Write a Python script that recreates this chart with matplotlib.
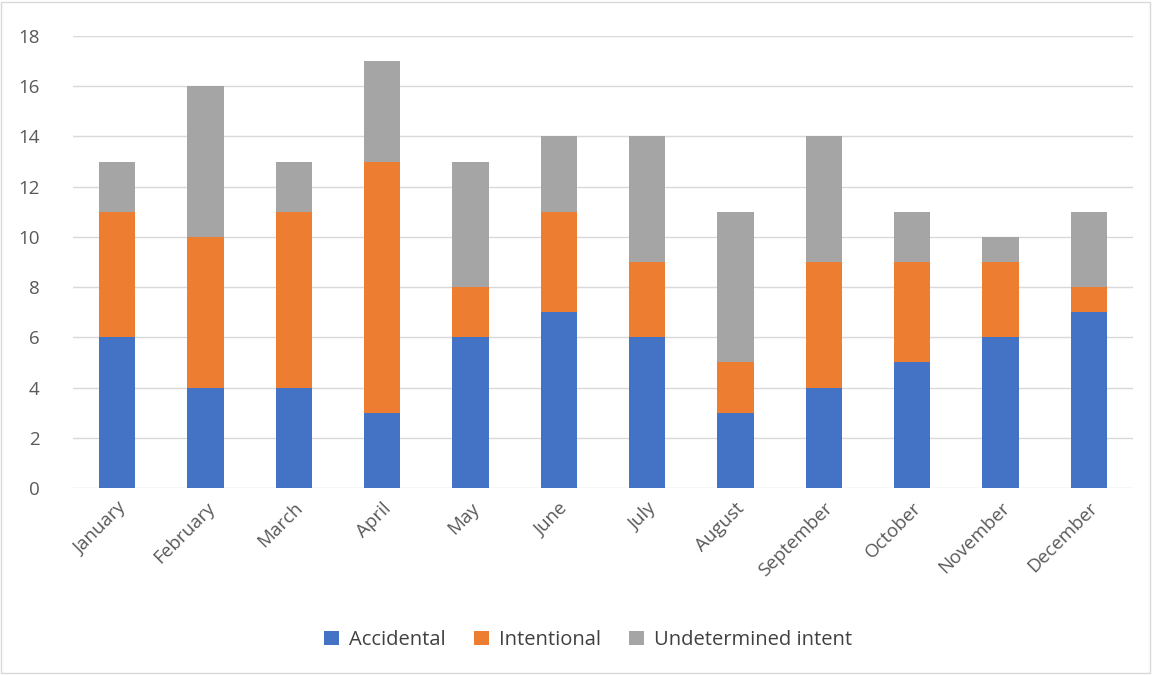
import matplotlib
matplotlib.use("Agg")
import matplotlib.pyplot as plt
import numpy as np
from matplotlib.patches import Rectangle

months = ["January", "February", "March", "April", "May", "June", "July",
          "August", "September", "October", "November", "December"]
accidental = [6, 4, 4, 3, 6, 7, 6, 3, 4, 5, 6, 7]
intentional = [5, 6, 7, 10, 2, 4, 3, 2, 5, 4, 3, 1]
undetermined = [2, 6, 2, 4, 5, 3, 5, 6, 5, 2, 1, 3]

plt.rcParams["font.family"] = ["Open Sans", "DejaVu Sans"]

fig = plt.figure(figsize=(11.53, 6.75), dpi=100)
ax = fig.add_axes([0.0633, 0.277, 0.9194, 0.6697])

x = np.arange(len(months))
w = 0.41
acc = np.array(accidental)
itn = np.array(intentional)
und = np.array(undetermined)
ax.bar(x, acc, w, color="#4472C4", label="Accidental", zorder=3)
ax.bar(x, itn, w, bottom=acc, color="#ED7D31", label="Intentional", zorder=3)
ax.bar(x, und, w, bottom=acc + itn, color="#A5A5A5", label="Undetermined intent", zorder=3)

ax.set_xlim(-0.5, 11.5)
ax.set_ylim(0, 18)
ax.set_yticks(range(0, 19, 2))
ax.grid(axis="y", color="#D9D9D9", lw=1, zorder=0)
for s in ax.spines.values():
    s.set_visible(False)
ax.tick_params(axis="both", length=0, colors="#595959", labelsize=13.5)
ax.tick_params(axis="y", pad=24)
ax.set_xticks(x)
ax.set_xticklabels(months, rotation=45, ha="right", rotation_mode="anchor")
ax.tick_params(axis="x", pad=8)

leg = fig.legend(loc="center", bbox_to_anchor=(0.51, 0.052), ncol=3, frameon=False,
                 fontsize=14.5, handlelength=0.75, handleheight=0.75, columnspacing=1.4,
                 handletextpad=0.5)
for t in leg.get_texts():
    t.set_color("#404040")

fig.patches.append(Rectangle((0.001, 0.003), 0.996, 0.994, transform=fig.transFigure,
                             fill=False, edgecolor="#D9D9D9", lw=1))

fig.savefig("out.png", dpi=100)
